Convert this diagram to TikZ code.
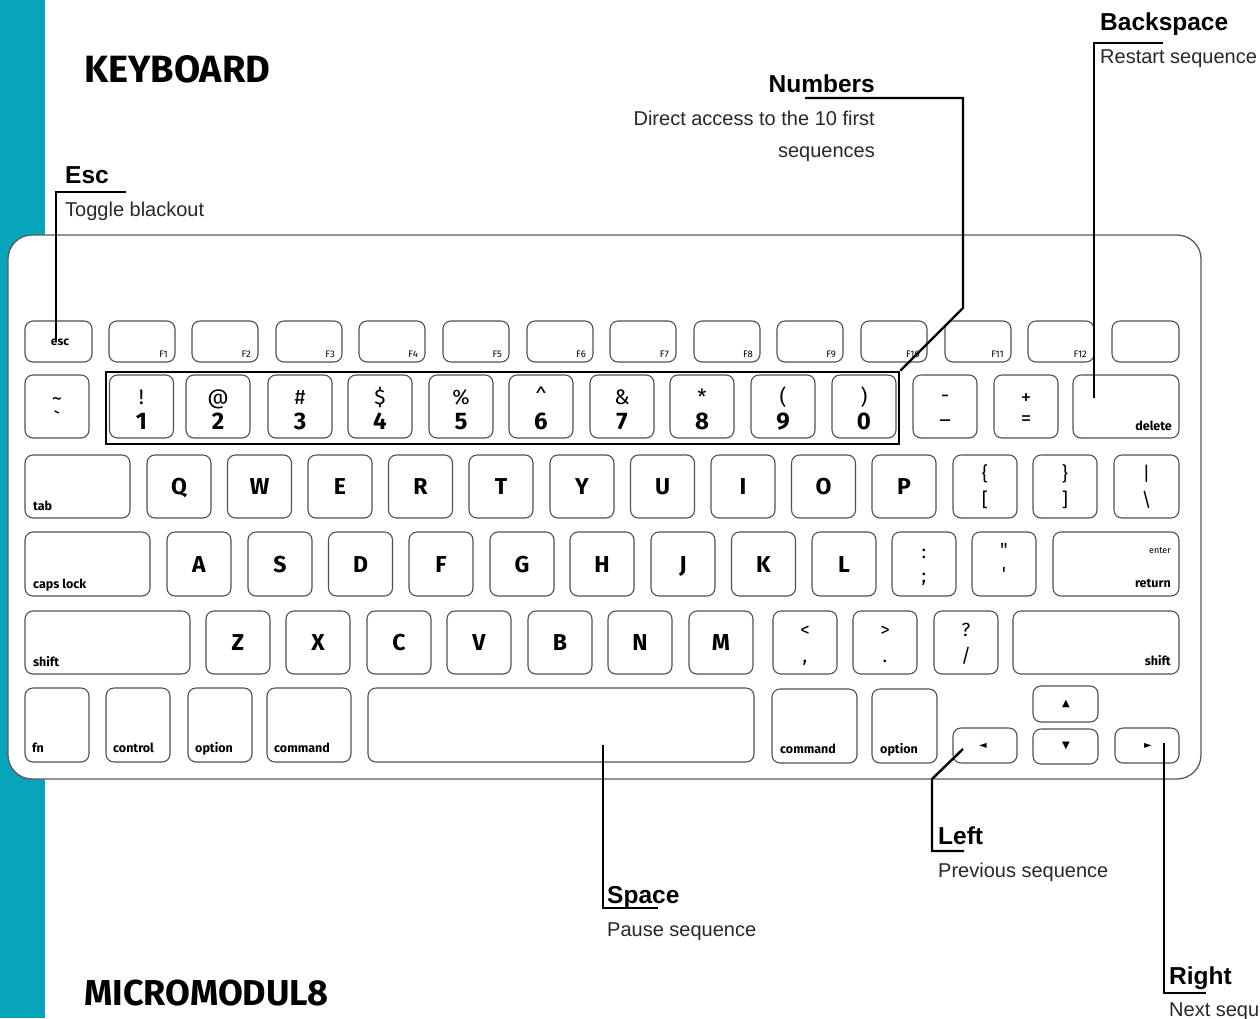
\documentclass[tikz,border=0pt]{standalone}
\usepackage{fontspec}
\setmainfont{Liberation Sans}
\newfontfamily\keyf{Fira Sans}
\newfontfamily\arrf{DejaVu Sans}
\usetikzlibrary{fit}
\definecolor{tealc}{RGB}{8,164,186}
\definecolor{keyline}{RGB}{80,80,80}
\definecolor{bodyline}{RGB}{90,90,90}
\definecolor{desc}{RGB}{40,40,40}
\newcommand\kkey[5]{\node[keybox, fit={(#2,#3) (#4,#5)}] (#1) {};}
\begin{document}
\begin{tikzpicture}[x=1pt,y=-1pt,
  keybox/.style={draw=keyline, line width=1.1pt, rounded corners=8pt, inner sep=0pt, outer sep=0pt, fill=white},
  body/.style={draw=bodyline, line width=1.3pt, rounded corners=24pt, inner sep=0pt, fill=white},
  numframe/.style={draw=black, line width=2.6pt, inner sep=0pt},
  leader/.style={draw=black, line width=2.4pt},
  ltr/.style={font=\keyf\bfseries\fontsize{23}{23}\selectfont, inner sep=0pt, anchor=base},
  dig/.style={font=\keyf\bfseries\fontsize{24}{24}\selectfont, inner sep=0pt, anchor=base},
  nsym/.style={font=\keyf\fontsize{21}{21}\selectfont, inner sep=0pt, anchor=base},
  sym/.style={font=\keyf\fontsize{19}{19}\selectfont, inner sep=0pt, anchor=base},
  sm/.style={font=\keyf\bfseries\fontsize{12.5}{12.5}\selectfont, inner sep=0pt},
  fk/.style={font=\keyf\fontsize{9.5}{9.5}\selectfont, inner sep=0pt, anchor=base east},
  arr/.style={font=\arrf\fontsize{10}{10}\selectfont, inner sep=0pt},
  ctitle/.style={font=\bfseries\fontsize{24.5}{24.5}\selectfont, inner sep=0pt},
  cdesc/.style={font=\fontsize{20}{20}\selectfont, text=desc, inner sep=0pt},
  heading/.style={font=\keyf\bfseries\fontsize{38}{38}\selectfont, inner sep=0pt, anchor=base west}
]
\useasboundingbox (0,0) rectangle (1260,1018);
\fill[white] (0,0) rectangle (1260,1018);
\fill[tealc] (0,0) rectangle (45,1018);

% titles
\node[heading] (ttl) at (84,82) {KEYBOARD};
\node[heading, font=\keyf\bfseries\fontsize{36}{36}\selectfont] (ttl2) at (84,1005) {MICROMODUL8};

% keyboard body
\node[body, fit={(8,235) (1201,779)}] (kbd) {};

% function row
\kkey{esc}{25}{321}{92}{362}
\node[sm, font=\keyf\bfseries\fontsize{12}{12}\selectfont] (esc-l) at (60,342) {esc};
\foreach \n/\a in {F1/109,F2/192,F3/276,F4/359,F5/443,F6/527,F7/610,F8/694,F9/777,F10/861,F11/945,F12/1028}{
  \kkey{\n}{\a}{321}{\a+66}{362}
  \node[fk] (\n-l) at ([xshift=-7pt,yshift=5pt]\n.south east) {\n};
}
\kkey{fblank}{1112}{321}{1179}{362}

% number row
\kkey{tilde}{25}{375}{89}{438}
\node[nsym] (tilde-a) at ([yshift=1.5pt]tilde.center) {\textasciitilde};
\node[nsym] (tilde-b) at ([yshift=-21pt]tilde.center) {\textasciigrave};
\foreach \d/\s/\a in {1/!/109.5,2/@/186,3/\#/268,4/\$/348,5/\%/429,6/\textasciicircum/509,7/\&/590,8/*/670,9/(/751,0/)/832}{
  \kkey{n\d}{\a}{375}{\a+64}{438}
  \node[nsym] (n\d-a) at ([yshift=2.5pt]n\d.center) {\s};
  \node[dig] (n\d-b) at ([yshift=-22.5pt]n\d.center) {\d};
}
\kkey{minus}{913}{375}{977}{438}
\node[nsym] (minus-a) at ([yshift=4pt]minus.center) {-};
\node[nsym] (minus-b) at ([yshift=-12pt]minus.center) {\_};
\kkey{plus}{994}{375}{1058}{438}
\node[nsym] (plus-a) at ([yshift=2pt]plus.center) {+};
\node[nsym] (plus-b) at ([yshift=-19pt]plus.center) {=};
\kkey{delete}{1073}{375}{1179}{438}
\node[sm, anchor=base east] (delete-l) at ([xshift=-7pt,yshift=8pt]delete.south east) {delete};

% row 3
\kkey{tab}{25}{455}{130}{518}
\node[sm, anchor=base west] (tab-l) at ([xshift=8pt,yshift=7.5pt]tab.south west) {tab};
\foreach \n/\a in {Q/147,W/227.5,E/308,R/388.5,T/469,Y/550,U/630.5,I/711,O/791.5,P/872}{
  \kkey{k\n}{\a}{455}{\a+64}{518}
  \node[ltr] (k\n-l) at ([yshift=-8pt]k\n.center) {\n};
}
\kkey{lbr}{953}{455}{1017}{518}
\node[sym] (lbr-a) at ([yshift=6pt]lbr.center) {\{};
\node[sym] (lbr-b) at ([yshift=-19.5pt]lbr.center) {[};
\kkey{rbr}{1033}{455}{1097}{518}
\node[sym] (rbr-a) at ([yshift=6pt]rbr.center) {\}};
\node[sym] (rbr-b) at ([yshift=-19.5pt]rbr.center) {]};
\kkey{bsl}{1114}{455}{1179}{518}
\node[sym] (bsl-a) at ([yshift=6pt]bsl.center) {|};
\node[sym] (bsl-b) at ([yshift=-19.5pt]bsl.center) {\textbackslash};

% row 4
\kkey{caps}{25}{532}{150}{596}
\node[sm, anchor=base west] (caps-l) at ([xshift=8pt,yshift=8pt]caps.south west) {caps lock};
\foreach \n/\a in {A/167,S/248,D/328.5,F/409,G/490,H/570,J/651,K/731.5,L/812}{
  \kkey{k\n}{\a}{532}{\a+64}{596}
  \node[ltr] (k\n-l) at ([yshift=-8pt]k\n.center) {\n};
}
\kkey{semi}{892}{532}{956}{596}
\node[sym] (semi-a) at ([yshift=6pt]semi.center) {:};
\node[sym] (semi-b) at ([yshift=-18.5pt]semi.center) {;};
\kkey{quot}{972}{532}{1036}{596}
\node[sym] (quot-a) at ([yshift=8pt]quot.center) {\textquotedbl};
\node[sym] (quot-b) at ([yshift=-16pt]quot.center) {\textquotesingle};
\kkey{ret}{1053}{532}{1179}{596}
\node[font=\keyf\fontsize{9}{9}\selectfont, inner sep=0pt, anchor=base east] (ret-a) at ([xshift=-8pt,yshift=-21pt]ret.north east) {enter};
\node[sm, anchor=base east] (ret-l) at ([xshift=-8pt,yshift=9pt]ret.south east) {return};

% row 5
\kkey{lshift}{25}{611}{190}{674}
\node[sm, anchor=base west] (lshift-l) at ([xshift=8pt,yshift=7.5pt]lshift.south west) {shift};
\foreach \n/\a in {Z/206,X/286,C/367,V/447,B/528,N/608,M/689}{
  \kkey{k\n}{\a}{611}{\a+64}{674}
  \node[ltr] (k\n-l) at ([yshift=-8pt]k\n.center) {\n};
}
\kkey{comma}{773}{611}{837}{674}
\node[sym] (comma-a) at ([yshift=6pt]comma.center) {<};
\node[sym] (comma-b) at ([yshift=-19.5pt]comma.center) {,};
\kkey{period}{853}{611}{917}{674}
\node[sym] (period-a) at ([yshift=6pt]period.center) {>};
\node[sym] (period-b) at ([yshift=-19.5pt]period.center) {.};
\kkey{slash}{934}{611}{998}{674}
\node[sym] (slash-a) at ([yshift=6pt]slash.center) {?};
\node[sym] (slash-b) at ([yshift=-19.5pt]slash.center) {/};
\kkey{rshift}{1013}{611}{1179}{674}
\node[sm, anchor=base east] (rshift-l) at ([xshift=-8pt,yshift=9pt]rshift.south east) {shift};

% row 6
\kkey{fn}{25}{688}{89}{762}
\node[sm, anchor=base west] (fn-l) at ([xshift=7pt,yshift=10pt]fn.south west) {fn};
\kkey{ctrl}{106}{688}{170}{762}
\node[sm, anchor=base west] (ctrl-l) at ([xshift=7pt,yshift=10pt]ctrl.south west) {control};
\kkey{lopt}{188}{688}{252}{762}
\node[sm, anchor=base west] (lopt-l) at ([xshift=7pt,yshift=10pt]lopt.south west) {option};
\kkey{lcmd}{267}{688}{351}{762}
\node[sm, anchor=base west] (lcmd-l) at ([xshift=7pt,yshift=10pt]lcmd.south west) {command};
\kkey{space}{368}{688}{754}{762}
\kkey{rcmd}{772}{689}{857}{763}
\node[sm, anchor=base west] (rcmd-l) at ([xshift=8pt,yshift=10pt]rcmd.south west) {command};
\kkey{ropt}{872}{689}{937}{763}
\node[sm, anchor=base west] (ropt-l) at ([xshift=8pt,yshift=10pt]ropt.south west) {option};
\kkey{left}{953}{728}{1017}{763}
\node[arr] (left-l) at (983,745.5) {◄};
\kkey{up}{1033}{686}{1098}{722}
\node[arr] (up-l) at (1066,704) {▲};
\kkey{down}{1033}{729}{1098}{764}
\node[arr] (down-l) at (1066,746) {▼};
\kkey{right}{1115}{728}{1179}{763}
\node[arr] (right-l) at (1148,745.5) {►};

% number frame
\node[numframe, fit={(106,372) (899,444)}] (numbox) {};

% callout coordinates
\coordinate (escTip) at (56,340);
\coordinate (escBend) at (56,192);
\coordinate (escEnd) at (126,192);
\coordinate (numBend) at (963,308);
\coordinate (numCorner) at (963,98);
\coordinate (numEnd) at (805,98);
\coordinate (bsTip) at (1094,398);
\coordinate (bsBend) at (1094,43);
\coordinate (bsEnd) at (1163,43);
\coordinate (spTip) at (603,745);
\coordinate (spBend) at (603,908);
\coordinate (spEnd) at (658,908);
\coordinate (lfTip) at (963,749);
\coordinate (lfKnee) at (932,779);
\coordinate (lfBend) at (932,851);
\coordinate (lfEnd) at (964,851);
\coordinate (rtTip) at (1164,743);
\coordinate (rtBend) at (1164,993);
\coordinate (rtEnd) at (1206,993);

% leaders
\draw[leader] (escTip) -- (escBend) -- (escEnd);
\draw[leader] (numbox.north east) -- (numBend) -- (numCorner) -- (numEnd);
\draw[leader] (bsTip) -- (bsBend) -- (bsEnd);
\draw[leader] (spTip) -- (spBend) -- (spEnd);
\draw[leader] (lfTip) -- (lfKnee) -- (lfBend) -- (lfEnd);
\draw[leader] (rtTip) -- (rtBend) -- (rtEnd);

% callout texts
\node[ctitle, anchor=base west] (escT) at (65,183) {Esc};
\node[cdesc, anchor=base west] (escD) at (65,216) {Toggle blackout};
\node[ctitle, anchor=base east] (numT) at (875,92) {Numbers};
\node[cdesc, anchor=base east] (numD1) at (875,125) {Direct access to the 10 first};
\node[cdesc, anchor=base east] (numD2) at (875,157) {sequences};
\node[ctitle, anchor=base west] (bsT) at (1100,30) {Backspace};
\node[cdesc, anchor=base west] (bsD) at (1100,63) {Restart sequence};
\node[ctitle, anchor=base west] (spT) at (607,903) {Space};
\node[cdesc, anchor=base west] (spD) at (607,936) {Pause sequence};
\node[ctitle, anchor=base west] (lfT) at (938,844) {Left};
\node[cdesc, anchor=base west] (lfD) at (938,877) {Previous sequence};
\node[ctitle, anchor=base west] (rtT) at (1169,984) {Right};
\node[cdesc, anchor=base west] (rtD) at (1169,1016) {Next sequence};
\end{tikzpicture}
\end{document}
